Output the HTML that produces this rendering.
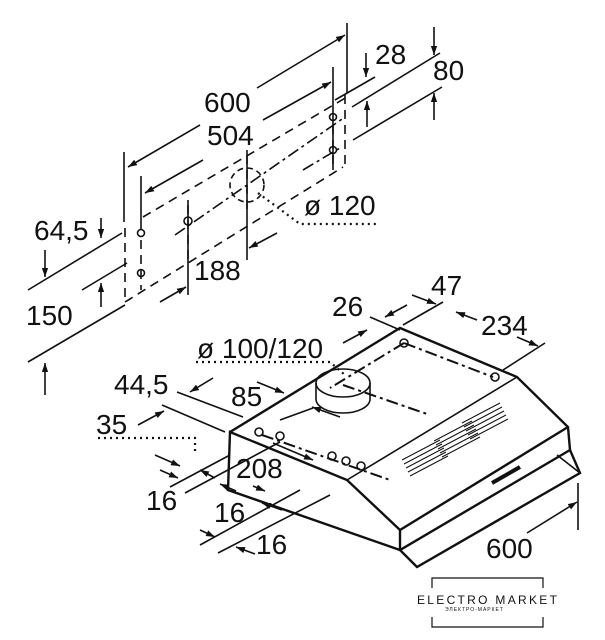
<!DOCTYPE html>
<html><head><meta charset="utf-8"><style>
html,body{margin:0;padding:0;background:#fff;}
svg{display:block}
text{font-family:"Liberation Sans",sans-serif;font-size:28px;fill:#111}
</style></head><body>
<svg width="605" height="640" viewBox="0 0 605 640" xmlns="http://www.w3.org/2000/svg">
<defs>
<marker id="a" viewBox="0 0 10 10" refX="10" refY="5" markerWidth="9" markerHeight="9" orient="auto-start-reverse" markerUnits="userSpaceOnUse"><path d="M0,1.5 L10,5 L0,8.5z" fill="#111"/></marker>
</defs>
<g stroke="#111" stroke-width="1.6" fill="none">
<line x1="124" y1="152" x2="124" y2="222"/>
<line x1="141" y1="176" x2="141" y2="230"/>
<line x1="347" y1="23" x2="347" y2="93"/>
<line x1="333" y1="67" x2="333" y2="170"/>
<line x1="188" y1="200" x2="188" y2="295"/>
<line x1="247" y1="150" x2="247" y2="260"/>
<line x1="200" y1="125" x2="128" y2="167" marker-end="url(#a)"/>
<line x1="257" y1="88" x2="345" y2="35" marker-end="url(#a)"/>
<line x1="203" y1="160" x2="145" y2="193" marker-end="url(#a)"/>
<line x1="263" y1="120" x2="331" y2="82" marker-end="url(#a)"/>
<line x1="160" y1="302" x2="186" y2="287" marker-end="url(#a)"/>
<line x1="277" y1="233" x2="249" y2="248" marker-end="url(#a)"/>
<line x1="28" y1="290" x2="122" y2="233"/>
<line x1="82" y1="290" x2="127" y2="263"/>
<line x1="28" y1="362" x2="125" y2="305"/>
<line x1="45" y1="250" x2="45" y2="277" marker-end="url(#a)"/>
<line x1="45" y1="395" x2="45" y2="363" marker-end="url(#a)"/>
<line x1="101" y1="307" x2="101" y2="283" marker-end="url(#a)"/>
<line x1="101" y1="218" x2="101" y2="238" marker-end="url(#a)"/>
<line x1="352" y1="107" x2="440" y2="53"/>
<line x1="353" y1="140" x2="442" y2="87"/>
<line x1="335" y1="100" x2="375" y2="77"/>
<line x1="366" y1="53" x2="366" y2="77" marker-end="url(#a)"/>
<line x1="367" y1="127" x2="367" y2="101" marker-end="url(#a)"/>
<line x1="434" y1="27" x2="434" y2="55" marker-end="url(#a)"/>
<line x1="434" y1="120" x2="434" y2="93" marker-end="url(#a)"/>
<g stroke-dasharray="9,6">
<line x1="143" y1="217" x2="347" y2="97"/>
<line x1="125" y1="302" x2="343" y2="167"/>
<line x1="125" y1="228" x2="125" y2="300"/>
<line x1="345" y1="95" x2="345" y2="165"/>
<line x1="141" y1="240" x2="141" y2="290"/>
<line x1="333" y1="125" x2="333" y2="170"/>
<line x1="188" y1="205" x2="188" y2="260"/>
<line x1="247" y1="155" x2="247" y2="215"/>
</g>
<g stroke-dasharray="12,4,3,4">
<line x1="175" y1="235" x2="345" y2="117"/>
<line x1="303" y1="170" x2="340" y2="148"/>
</g>
<circle cx="247" cy="185" r="17" stroke-dasharray="6,4"/>
<circle cx="141" cy="233" r="3.5"/><circle cx="141" cy="273" r="3.5"/>
<circle cx="188" cy="221" r="4"/><circle cx="333" cy="117" r="3.5"/><circle cx="333" cy="150" r="3.5"/>
<polyline points="258,193 300,224 378,224" stroke-dasharray="2,4" stroke-width="2.2"/>
<!-- hood -->
<g stroke-width="2.4">
<polyline points="230,432 400,328 517,377 568,427 570,450 400,550 228,490 230,432 347,480 400,530 568,427"/>
<line x1="400" y1="530" x2="400" y2="550"/>
<polyline points="400,550 417,567 580,473 570,450"/>
</g>
<line x1="347" y1="480" x2="517" y2="377"/>
<line x1="557" y1="455" x2="580" y2="473"/>
<line x1="492" y1="483" x2="520" y2="467" stroke-width="4"/>
<ellipse cx="343" cy="383" rx="27" ry="14"/>
<path d="M316,383 v16 a27,14 0 0 0 54,0 v-16"/>
<g stroke-dasharray="12,4,3,4" stroke-width="2">
<line x1="404" y1="343" x2="330" y2="388"/>
<line x1="404" y1="343" x2="493" y2="377"/>
<line x1="343" y1="385" x2="430" y2="415"/>
<line x1="262" y1="435" x2="390" y2="480"/>
</g>
<circle cx="404" cy="343" r="4"/><circle cx="495" cy="377" r="4"/>
<circle cx="259" cy="432" r="4"/><circle cx="280" cy="436" r="4"/><circle cx="332" cy="456" r="4"/><circle cx="346" cy="461" r="4"/><circle cx="361" cy="466" r="4"/>
<g stroke-width="1">
<line x1="402" y1="460" x2="440" y2="440"/><line x1="404" y1="464" x2="442" y2="444"/><line x1="406" y1="468" x2="444" y2="448"/><line x1="408" y1="472" x2="446" y2="452"/><line x1="410" y1="476" x2="448" y2="456"/>
<line x1="434" y1="441" x2="472" y2="421"/><line x1="436" y1="445" x2="474" y2="425"/><line x1="438" y1="449" x2="476" y2="429"/><line x1="440" y1="453" x2="478" y2="433"/><line x1="442" y1="457" x2="480" y2="437"/>
<line x1="462" y1="423" x2="500" y2="403"/><line x1="464" y1="427" x2="502" y2="407"/><line x1="466" y1="431" x2="504" y2="411"/><line x1="468" y1="435" x2="506" y2="415"/><line x1="470" y1="439" x2="508" y2="419"/>
</g>
<line x1="370" y1="317" x2="400" y2="330"/>
<line x1="403" y1="325" x2="443" y2="302"/>
<line x1="503" y1="370" x2="545" y2="343"/>
<line x1="343" y1="343" x2="367" y2="330" marker-end="url(#a)"/>
<line x1="407" y1="305" x2="385" y2="317" marker-end="url(#a)"/>
<line x1="412" y1="295" x2="436" y2="304" marker-end="url(#a)"/>
<line x1="477" y1="320" x2="456" y2="312" marker-end="url(#a)"/>
<line x1="517" y1="337" x2="538" y2="346" marker-end="url(#a)"/>
<polyline points="196,362 330,362 345,375" stroke-dasharray="2,4" stroke-width="2.2"/>
<line x1="177" y1="392" x2="243" y2="417"/>
<line x1="213" y1="378" x2="190" y2="392" marker-end="url(#a)"/>
<line x1="257" y1="382" x2="284" y2="393" marker-end="url(#a)"/>
<line x1="340" y1="417" x2="312" y2="407" marker-end="url(#a)"/>
<line x1="280" y1="420" x2="313" y2="408"/>
<line x1="162" y1="405" x2="225" y2="432"/>
<line x1="138" y1="425" x2="164" y2="411" marker-end="url(#a)"/>
<polyline points="98,438 195,438 195,455" stroke-dasharray="2,4" stroke-width="2.2"/>
<line x1="155" y1="455" x2="180" y2="466" marker-end="url(#a)"/>
<line x1="170" y1="487" x2="230" y2="455"/>
<line x1="185" y1="493" x2="280" y2="442"/>
<line x1="160" y1="470" x2="178" y2="478" marker-end="url(#a)"/>
<line x1="215" y1="478" x2="200" y2="470" marker-end="url(#a)"/>
<line x1="273" y1="443" x2="313" y2="460" marker-end="url(#a)"/>
<line x1="253" y1="486" x2="265" y2="491" marker-end="url(#a)"/>
<line x1="236" y1="491" x2="220" y2="484" marker-end="url(#a)"/>
<line x1="200" y1="545" x2="300" y2="490"/>
<line x1="218" y1="553" x2="330" y2="495"/>
<line x1="200" y1="530" x2="215" y2="537" marker-end="url(#a)"/>
<line x1="255" y1="554" x2="236" y2="547" marker-end="url(#a)"/>
<line x1="282" y1="510" x2="262" y2="503" marker-end="url(#a)"/>
<line x1="578" y1="483" x2="578" y2="530"/>
<line x1="527" y1="533" x2="577" y2="502" marker-end="url(#a)"/>
<g stroke-width="1.2">
<polyline points="432,588 432,578 543,578 543,588"/>
<polyline points="432,617 432,627 543,627 543,617"/>
</g>
</g>
<text x="204" y="112">600</text>
<text x="207" y="145">504</text>
<text x="375" y="64">28</text>
<text x="433" y="80">80</text>
<text x="304" y="215">ø 120</text>
<text x="34" y="240">64,5</text>
<text x="194" y="280">188</text>
<text x="26" y="325">150</text>
<text x="332" y="316">26</text>
<text x="431" y="295">47</text>
<text x="481" y="335">234</text>
<text x="197" y="358">ø 100/120</text>
<text x="114" y="394">44,5</text>
<text x="231" y="406">85</text>
<text x="96" y="434">35</text>
<text x="236" y="478">208</text>
<text x="146" y="510">16</text>
<text x="214" y="522">16</text>
<text x="256" y="554">16</text>
<text x="486" y="558">600</text>
<text x="417" y="604" style="font-size:12px;letter-spacing:2.3px">ELECTRO MARKET</text>
<text x="445" y="611" style="font-size:5px;letter-spacing:1px">ЭЛЕКТРО-МАРКЕТ</text>
</svg>
</body></html>
